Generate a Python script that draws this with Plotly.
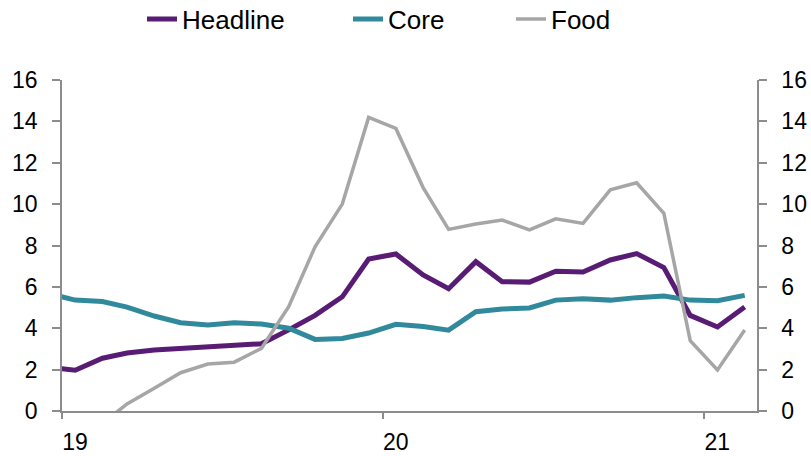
import pandas as pd
import plotly.graph_objects as go

# Monthly data, Dec 2018 .. Feb 2021
months = pd.date_range("2018-12-01", periods=27, freq="MS")
headline = [2.12, 1.97, 2.55, 2.80, 2.95, 3.03, 3.13, 3.17, 3.25, 3.92, 4.62, 5.52, 7.35,
            7.59, 6.58, 5.91, 7.22, 6.25, 6.23, 6.76, 6.72, 7.30, 7.61, 6.93, 4.62, 4.06, 5.03]
core = [5.68, 5.36, 5.29, 5.02, 4.59, 4.27, 4.16, 4.26, 4.20, 4.00, 3.46, 3.51, 3.77,
        4.19, 4.08, 3.91, 4.80, 4.93, 4.98, 5.36, 5.43, 5.36, 5.48, 5.56, 5.36, 5.33, 5.59]
food = [-1.5, -1.2, -0.6, 0.34, 1.10, 1.85, 2.27, 2.36, 3.03, 5.04, 7.94, 10.00, 14.19,
        13.66, 10.80, 8.78, 9.04, 9.23, 8.75, 9.29, 9.07, 10.69, 11.03, 9.55, 3.40, 1.98, 3.91]

x_tickvals = ["2019-01-01", "2020-01-01", "2021-01-01"]
x_ticktext = ["19", "20", "21"]
y_ticks = [0, 2, 4, 6, 8, 10, 12, 14, 16]

# plot at mid-month
xdates = months + pd.Timedelta(days=15)

FONT = "Liberation Sans, Arial, sans-serif"
AXIS_COLOR = "#8C8C8C"

fig = go.Figure()
fig.add_trace(go.Scatter(x=xdates, y=headline, name="Headline", mode="lines",
                         line=dict(color="#581C74", width=5), legend="legend"))
fig.add_trace(go.Scatter(x=xdates, y=core, name="Core", mode="lines",
                         line=dict(color="#31899C", width=5), legend="legend2"))
fig.add_trace(go.Scatter(x=xdates, y=food, name="Food", mode="lines", yaxis="y2",
                         line=dict(color="#A6A6A6", width=3.5), legend="legend3"))

leg_common = dict(orientation="h", xref="container", yref="container", y=0.958,
                  xanchor="left", yanchor="middle", font=dict(size=26, color="black"),
                  bgcolor="rgba(0,0,0,0)")

axis_common = dict(showline=True, linecolor=AXIS_COLOR, linewidth=1.5, ticks="outside",
                   tickwidth=1.5, tickcolor=AXIS_COLOR, showgrid=False, zeroline=False,
                   automargin=False)

fig.update_layout(
    width=811, height=456,
    margin=dict(l=62, r=54, t=80, b=45),
    paper_bgcolor="white", plot_bgcolor="white",
    font=dict(family=FONT, size=23, color="black"),
    showlegend=True,
    legend=dict(x=0.1751, **leg_common),
    legend2=dict(x=0.4291, **leg_common),
    legend3=dict(x=0.6301, **leg_common),
    xaxis=dict(range=["2019-01-01", "2021-03-02"], tickvals=x_tickvals, ticktext=x_ticktext,
               ticklen=6, ticklabelshift=13, ticklabelstandoff=4, **axis_common),
    yaxis=dict(range=[0, 16], tickvals=y_ticks, ticklen=8, ticklabelstandoff=10, **axis_common),
    yaxis2=dict(range=[0, 16], tickvals=y_ticks, overlaying="y", side="right", anchor="x",
                ticklen=8, ticklabelstandoff=10, **axis_common),
)

fig.write_html("out.html")
